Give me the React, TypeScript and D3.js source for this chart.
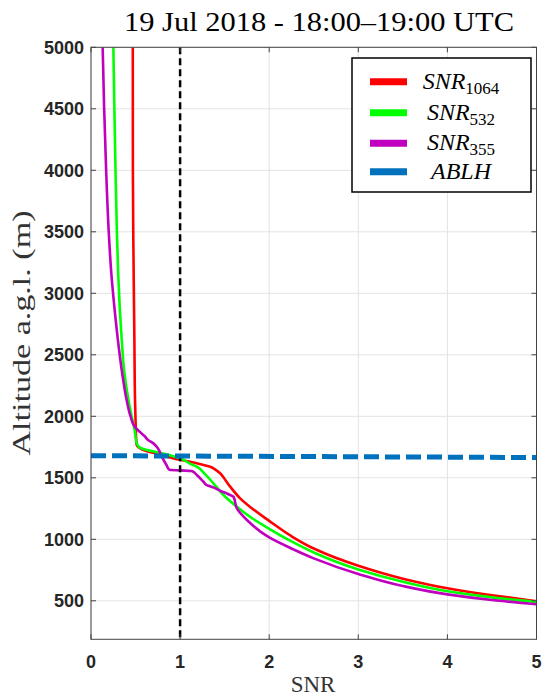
import React from "react";
import * as d3 from "d3";

const titleText = "19 Jul 2018 - 18:00\u201319:00 UTC";
const xTicks = [0, 1, 2, 3, 4, 5];
const yTicks = [500, 1000, 1500, 2000, 2500, 3000, 3500, 4000, 4500, 5000];

const alt1064 = [5000, 4000, 3433, 2620, 2133, 1916, 1800, 1767, 1745, 1718, 1695, 1672, 1650, 1631, 1610, 1590, 1565, 1537, 1480, 1428, 1333, 1255, 1150, 1025, 925, 785, 680, 602, 545, 497];
const snr1064 = [0.469, 0.47, 0.475, 0.487, 0.494, 0.502, 0.508, 0.513, 0.54, 0.62, 0.75, 0.86, 0.963, 1.112, 1.23, 1.337, 1.4, 1.449, 1.51, 1.562, 1.674, 1.8, 2.0, 2.25, 2.5, 3.0, 3.5, 4.0, 4.5, 5.0];

const alt532 = [5000, 4517, 4000, 3514, 3163, 2891, 2620, 2350, 2133, 1997, 1889, 1808, 1780, 1745, 1726, 1704, 1680, 1659, 1620, 1590, 1530, 1455, 1350, 1265, 1175, 1085, 983, 893, 755, 655, 578, 528, 490];
const snr532 = [0.251, 0.262, 0.275, 0.29, 0.305, 0.322, 0.345, 0.375, 0.42, 0.457, 0.49, 0.506, 0.513, 0.55, 0.626, 0.775, 0.9, 1.0, 1.1, 1.187, 1.28, 1.374, 1.5, 1.637, 1.8, 2.0, 2.25, 2.5, 3.0, 3.5, 4.0, 4.5, 5.0];

const alt355 = [5000, 4517, 4000, 3514, 3163, 2891, 2620, 2350, 2133, 1997, 1916, 1875, 1840, 1808, 1780, 1740, 1672, 1600, 1565, 1560, 1555, 1523, 1470, 1441, 1420, 1395, 1370, 1346, 1252, 1157, 1015, 925, 845, 718, 620, 552, 506, 472];
const snr355 = [0.131, 0.147, 0.17, 0.198, 0.228, 0.262, 0.302, 0.35, 0.4, 0.445, 0.49, 0.545, 0.6, 0.64, 0.7, 0.75, 0.794, 0.85, 0.88, 1.0, 1.131, 1.187, 1.26, 1.3, 1.38, 1.449, 1.53, 1.599, 1.637, 1.75, 2.0, 2.25, 2.5, 3.0, 3.5, 4.0, 4.5, 5.0];

const ablhSnr = [0, 5];
const ablhAlt = [1680, 1665];

const thresholdSnr = 1;

const legendMain = ["SNR", "SNR", "SNR", "ABLH"];
const legendSub = ["1064", "532", "355", ""];
const legendColors = ["#ff0000", "#00ff00", "#bf00bf", "#0072bd"];

const W = 548, H = 698;
const L = 91, R = 536.5, T = 47.3, B = 639.3;

export default function App() {
  const x = d3.scaleLinear().domain([0, 5]).range([L, R]);
  const y = d3.scaleLinear().domain([187, 5000]).range([B, T]);
  const line = d3
    .line<[number, number]>()
    .x((d) => x(d[0]))
    .y((d) => y(d[1]))
    .curve(d3.curveMonotoneY);
  const straight = d3.line<[number, number]>().x((d) => x(d[0])).y((d) => y(d[1]));
  const series = [
    { snr: snr1064, alt: alt1064, color: legendColors[0] },
    { snr: snr532, alt: alt532, color: legendColors[1] },
    { snr: snr355, alt: alt355, color: legendColors[2] },
  ];
  const axisColor = "#444";
  const tickLen = 5;
  const tickFont = "'Liberation Sans', Arial, sans-serif";
  const serif = "'Liberation Serif', 'Times New Roman', serif";
  const legX = 352, legY = 58, legW = 179, legH = 134;
  const rowY = [81.7, 112.7, 143.3, 171.7];
  return (
    <svg width={W} height={H} style={{ position: "absolute", left: 0, top: 0 }}>
      <rect x={0} y={0} width={W} height={H} fill="#fff" />
      <defs>
        <clipPath id="plotclip">
          <rect x={L} y={T} width={R - L} height={B - T} />
        </clipPath>
      </defs>
      {xTicks.map((t) => (
        <line key={"gx" + t} x1={x(t)} x2={x(t)} y1={T} y2={B} stroke="#e3e3e3" strokeWidth={1} />
      ))}
      {yTicks.map((t) => (
        <line key={"gy" + t} x1={L} x2={R} y1={y(t)} y2={y(t)} stroke="#e3e3e3" strokeWidth={1} />
      ))}
      <g clipPath="url(#plotclip)">
        {series.map((s, i) => (
          <path
            key={i}
            d={line(s.snr.map((v, j) => [v, s.alt[j]] as [number, number])) || ""}
            fill="none"
            stroke={s.color}
            strokeWidth={2.6}
            strokeLinejoin="round"
          />
        ))}
        <line x1={x(thresholdSnr)} x2={x(thresholdSnr)} y1={T} y2={B} stroke="#000" strokeWidth={2.5} strokeDasharray="7,4" />
        <path
          d={straight(ablhSnr.map((v, j) => [v, ablhAlt[j]] as [number, number])) || ""}
          fill="none"
          stroke="#0072bd"
          strokeWidth={5}
          strokeDasharray="15,6"
        />
      </g>
      <rect x={L} y={T} width={R - L} height={B - T} fill="none" stroke={axisColor} strokeWidth={1} />
      {xTicks.map((t) => (
        <g key={"tx" + t}>
          <line x1={x(t)} x2={x(t)} y1={B} y2={B - tickLen} stroke={axisColor} />
          <line x1={x(t)} x2={x(t)} y1={T} y2={T + tickLen} stroke={axisColor} />
          <text x={x(t)} y={668} textAnchor="middle" fontFamily={tickFont} fontWeight="bold" fontSize={18} fill="#262626">
            {t}
          </text>
        </g>
      ))}
      {yTicks.map((t) => (
        <g key={"ty" + t}>
          <line x1={L} x2={L + tickLen} y1={y(t)} y2={y(t)} stroke={axisColor} />
          <line x1={R} x2={R - tickLen} y1={y(t)} y2={y(t)} stroke={axisColor} />
          <text x={84} y={y(t) + 6.5} textAnchor="end" fontFamily={tickFont} fontWeight="bold" fontSize={18} fill="#262626">
            {t}
          </text>
        </g>
      ))}
      <text x={319} y={31} textAnchor="middle" fontFamily={serif} fontSize={28} fill="#000" textLength={390} lengthAdjust="spacingAndGlyphs">
        {titleText}
      </text>
      <text x={313} y={692} textAnchor="middle" fontFamily={serif} fontSize={23} fill="#333">
        SNR
      </text>
      <text
        transform={`translate(30, 333) rotate(-90)`}
        textAnchor="middle"
        fontFamily={serif}
        fontSize={25}
        fill="#333"
        textLength={245}
        lengthAdjust="spacingAndGlyphs"
      >
        Altitude a.g.l. (m)
      </text>
      <rect x={legX} y={legY} width={legW} height={legH} fill="#fff" stroke="#000" strokeWidth={1.5} />
      {legendMain.map((m, i) => (
        <g key={"lg" + i}>
          <line x1={370} x2={407} y1={rowY[i]} y2={rowY[i]} stroke={legendColors[i]} strokeWidth={7} />
          <text x={461} y={rowY[i] + 7} textAnchor="middle" fontFamily={serif} fontSize={24} fill="#000">
            <tspan fontStyle="italic">{m}</tspan>
            {legendSub[i] && (
              <tspan fontSize={17} dy={5}>
                {legendSub[i]}
              </tspan>
            )}
          </text>
        </g>
      ))}
    </svg>
  );
}
